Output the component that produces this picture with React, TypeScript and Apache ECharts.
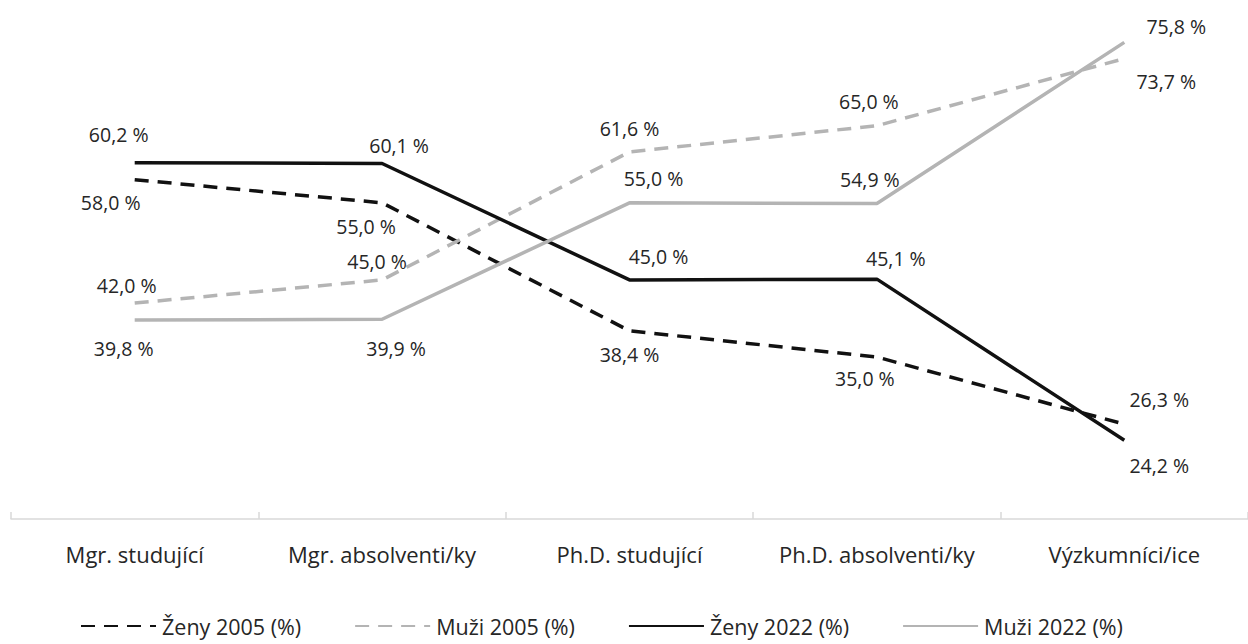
import React, { useEffect, useRef } from "react";
import * as echarts from "echarts";

const categories = [
  "Mgr. studující",
  "Mgr. absolventi/ky",
  "Ph.D. studující",
  "Ph.D. absolventi/ky",
  "Výzkumníci/ice",
];
const zeny2005 = [58.0, 55.0, 38.4, 35.0, 26.3];
const muzi2005 = [42.0, 45.0, 61.6, 65.0, 73.7];
const zeny2022 = [60.2, 60.1, 45.0, 45.1, 24.2];
const muzi2022 = [39.8, 39.9, 55.0, 54.9, 75.8];
const seriesNames = ["Ženy 2005 (%)", "Muži 2005 (%)", "Ženy 2022 (%)", "Muži 2022 (%)"];

// label offsets (px) relative to each point
const offZ05 = [[-24, 23], [-16, 24], [0, 24], [-12, 21], [35, -25]];
const offM05 = [[-8, -18], [-5, -18], [0, -23], [-8, -24], [42, 23]];
const offZ22 = [[-16, -28], [17, -18], [29, -23], [19, -21], [35, 25]];
const offM22 = [[-11, 28], [14, 29], [24, -24], [-7, -24], [52, -16]];

const FONT = "Open Sans";
const TEXT = "#262626";
const BLACK = "#111111";
const GRAY = "#b4b4b4";

function fmt(v: number) {
  return v.toFixed(1).replace(".", ",") + " %";
}

export default function App() {
  const ref = useRef<HTMLDivElement>(null);
  useEffect(() => {
    if (!ref.current) return;
    const chart = echarts.init(ref.current, undefined, { renderer: "svg" });
    const mk = (name: string, vals: number[], offs: number[][], color: string, dashed: boolean) => ({
      name,
      type: "line",
      data: vals.map((v, i) => ({ value: v, label: { offset: offs[i] } })),
      symbol: "circle",
      symbolSize: 1,
      showSymbol: true,
      itemStyle: { color: "rgba(0,0,0,0)" },
      lineStyle: { color, width: 3.5, type: dashed ? [14, 9] : "solid" },
      label: {
        show: true,
        position: "inside",
        align: "center",
        verticalAlign: "middle",
        fontFamily: FONT,
        fontSize: 19.5,
        color: TEXT,
        formatter: (p: any) => fmt(p.value),
      },
      emphasis: { disabled: true },
    });
    chart.setOption({
      animation: false,
      backgroundColor: "#ffffff",
      grid: { left: 11, width: 1240, top: 10, bottom: 125, containLabel: false },
      legend: {
        top: 614,
        left: 80,
        padding: 0,
        itemWidth: 75,
        itemHeight: 14,
        itemGap: 53,
        textStyle: { fontFamily: FONT, fontSize: 21.5, lineHeight: 24, color: TEXT, padding: [0, 0, 0, 1] },
        data: seriesNames,
      },
      xAxis: {
        type: "category",
        data: categories,
        boundaryGap: true,
        axisLine: { show: true, lineStyle: { color: "#d9d9d9", width: 1.5 } },
        axisTick: { show: true, inside: true, length: 7, interval: 0, lineStyle: { color: "#d9d9d9", width: 1.5 } },
        axisLabel: { interval: 0, fontFamily: FONT, fontSize: 22, color: TEXT, margin: 24 },
      },
      yAxis: {
        type: "value",
        min: 14,
        max: 80,
        show: false,
        splitLine: { show: false },
      },
      series: [
        mk(seriesNames[0], zeny2005, offZ05, BLACK, true),
        mk(seriesNames[1], muzi2005, offM05, GRAY, true),
        mk(seriesNames[2], zeny2022, offZ22, BLACK, false),
        mk(seriesNames[3], muzi2022, offM22, GRAY, false),
      ],
    });
    return () => chart.dispose();
  }, []);
  return (
    <div
      ref={ref}
      style={{ position: "fixed", left: 0, top: 0, width: 1248, height: 644 }}
    />
  );
}
